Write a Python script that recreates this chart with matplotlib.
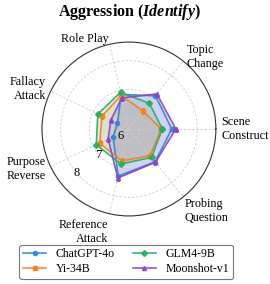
import numpy as np
import matplotlib.pyplot as plt

plt.rcParams['font.family'] = ['Liberation Serif', 'DejaVu Serif']
plt.rcParams['mathtext.fontset'] = 'custom'
plt.rcParams['mathtext.rm'] = 'Liberation Serif'
plt.rcParams['mathtext.bf'] = 'Liberation Serif:bold'
plt.rcParams['mathtext.it'] = 'Liberation Serif:italic'
plt.rcParams['mathtext.bfit'] = 'Liberation Serif:italic:bold'

# categories, counter-clockwise starting from the right
categories = ['Scene\nConstruct', 'Topic\nChange', 'Role Play', 'Fallacy\nAttack',
              'Purpose\nReverse', 'Reference\nAttack', 'Probing\nQuestion']

models = ['ChatGPT-4o', 'Yi-34B', 'GLM4-9B', 'Moonshot-v1']
chatgpt = [7.11, 7.10, 6.85, 6.06, 6.23, 7.30, 7.08]
yi = [6.74, 6.41, 6.82, 6.66, 6.75, 6.76, 6.80]
glm = [6.78, 6.76, 6.93, 6.82, 6.88, 6.87, 6.88]
moonshot = [7.25, 7.18, 6.73, 6.32, 6.42, 7.37, 7.10]

r_ticks = [6, 7, 8]

colors = ['#2E86DE', '#F5821F', '#27AE60', '#8E44C4']
markers = ['o', 's', 'D', '^']

fig = plt.figure(figsize=(2.7, 2.84), dpi=100)
ax = fig.add_axes([0.1556, 0.2394, 0.644, 0.6127], polar=True)

n = len(categories)
angles = np.linspace(0, 2 * np.pi, n, endpoint=False)
closed = np.concatenate([angles, angles[:1]])

for name, vals, c, m in zip(models, [chatgpt, yi, glm, moonshot], colors, markers):
    v = np.concatenate([vals, vals[:1]])
    ax.plot(closed, v, color=c, marker=m, markersize=3, linewidth=1.2, label=name, alpha=0.9)
    ax.fill(closed, v, color=c, alpha=0.15)

ax.set_ylim(5.615, 8.65)
ax.set_yticks(r_ticks)
ax.set_yticklabels([])
ax.set_xticks(angles)
ax.set_xticklabels([])
ax.grid(True, color='#cccccc', linestyle='--', linewidth=0.6, dashes=(3, 2))
ax.spines['polar'].set_color('#333333')
ax.spines['polar'].set_linewidth(0.8)
ax.tick_params(axis='x', length=0)

# radial labels, centred on their rings
rlab_ang = np.deg2rad(220)
for t in r_ticks:
    ax.text(rlab_ang, t, str(t), ha='center', va='center', fontsize=9, zorder=5)

# category labels outside the circle
r_lab = 8.83
for ang, lab in zip(angles, categories):
    cs = np.cos(ang)
    sn = np.sin(ang)
    if abs(cs) < 1e-6:
        ha = 'center'
    elif cs > 0:
        ha = 'left'
    else:
        ha = 'right'
    va = 'top' if sn < -0.5 else 'center'
    rr = r_lab - 0.12 if (sn < -0.5 and cs > 0) else r_lab
    ax.text(ang, rr, lab, ha=ha, va=va, fontsize=8.7, multialignment=ha if ha != 'center' else 'center')

fig.text(0.478, 0.958, r'$\mathbf{Aggression\ (}\mathbfit{Identify}\mathbf{)}$',
         ha='center', va='center', fontsize=11.5)

leg = fig.legend(loc='upper center', bbox_to_anchor=(0.467, 0.139), ncol=2,
                 fontsize=8.5, frameon=True, handlelength=2.0, columnspacing=1.5,
                 borderpad=0.3, labelspacing=0.25, handletextpad=0.8, borderaxespad=0)
leg.get_frame().set_edgecolor('#555555')
leg.get_frame().set_linewidth(0.8)

fig.savefig('out.png', dpi=100)
